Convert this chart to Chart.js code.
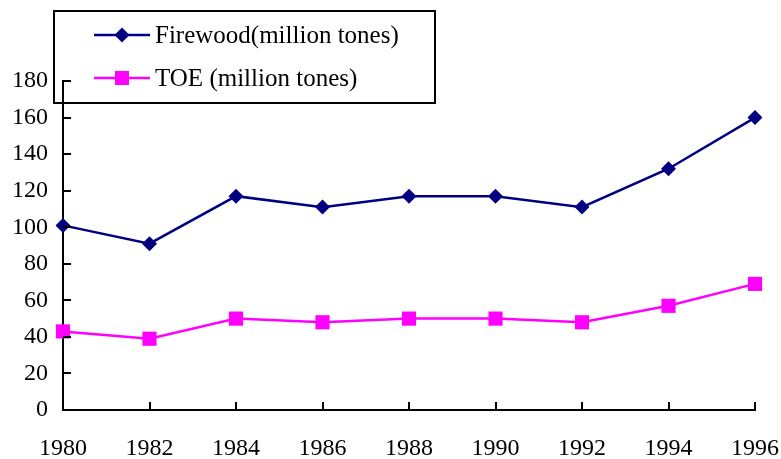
<!DOCTYPE html>
<html>
<head>
<meta charset="utf-8">
<script src="https://cdn.jsdelivr.net/npm/chart.js@4"></script>
<style>
  html, body { margin: 0; padding: 0; background: #fff; }
  #wrap { width: 781px; height: 459px; }
</style>
</head>
<body>
<div id="wrap"><canvas id="chart" width="781" height="459"></canvas></div>
<script>
// datos
const years = ['1980', '1982', '1984', '1986', '1988', '1990', '1992', '1994', '1996'];
const firewood = [101, 91, 117, 111, 117, 117, 111, 132, 160];
const toe = [43, 39, 50, 48, 50, 50, 48, 57, 69];
const yTicks = [0, 20, 40, 60, 80, 100, 120, 140, 160, 180];

const serif = '"Liberation Serif", "Times New Roman", serif';

// marcas de los ejes hacia dentro
const axisTicks = {
    id: 'axisTicks',
    afterDatasetsDraw(chart) {
        const ctx = chart.ctx;
        const x = chart.scales.x, y = chart.scales.y;
        const area = chart.chartArea;
        ctx.save();
        ctx.strokeStyle = '#000';
        ctx.lineWidth = 2;
        ctx.beginPath();
        yTicks.forEach(v => {
            const py = Math.round(y.getPixelForValue(v));
            ctx.moveTo(area.left, py);
            ctx.lineTo(area.left + 8, py);
        });
        years.forEach((lab, i) => {
            const px = Math.round(x.getPixelForValue(i));
            ctx.moveTo(px, area.bottom);
            ctx.lineTo(px, area.bottom - 8);
        });
        ctx.stroke();
        ctx.restore();
    }
};

// cuadro de leyenda
const boxLegend = {
    id: 'boxLegend',
    afterDraw(chart) {
        const ctx = chart.ctx;
        ctx.save();
        ctx.strokeStyle = '#000';
        ctx.lineWidth = 2;
        ctx.strokeRect(54, 11, 381, 92);
        const rows = [35, 78];
        chart.data.datasets.forEach((ds, i) => {
            const cy = rows[i];
            ctx.strokeStyle = ds.borderColor;
            ctx.lineWidth = 2.5;
            ctx.beginPath();
            ctx.moveTo(94, cy);
            ctx.lineTo(150, cy);
            ctx.stroke();
            ctx.fillStyle = ds.backgroundColor;
            ctx.beginPath();
            if (ds.pointStyle === 'rectRot') {
                const r = 7.5;
                ctx.moveTo(122 - r, cy); ctx.lineTo(122, cy - r);
                ctx.lineTo(122 + r, cy); ctx.lineTo(122, cy + r);
            } else {
                ctx.rect(115, cy - 7, 14, 14);
            }
            ctx.closePath();
            ctx.fill();
            ctx.fillStyle = '#000';
            ctx.font = '25px ' + serif;
            ctx.textBaseline = 'middle';
            ctx.fillText(ds.label, 155, cy + 1);
        });
        ctx.restore();
    }
};

const ctx = document.getElementById('chart').getContext('2d');
const chart = new Chart(ctx, {
    type: 'line',
    data: {
        labels: years,
        datasets: [{
            label: 'Firewood(million tones)',
            data: firewood,
            borderColor: '#000080',
            backgroundColor: '#000080',
            borderWidth: 2.5,
            pointStyle: 'rectRot',
            pointRadius: 7.5,
            pointBorderWidth: 0,
            tension: 0
        }, {
            label: 'TOE (million tones)',
            data: toe,
            borderColor: '#FF00FF',
            backgroundColor: '#FF00FF',
            borderWidth: 2.5,
            pointStyle: 'rect',
            pointRadius: 10,
            pointBorderWidth: 0,
            tension: 0
        }]
    },
    options: {
        responsive: false,
        animation: false,
        layout: { padding: { left: 0, right: 26, top: 81, bottom: 0 } },
        plugins: { legend: { display: false }, tooltip: { enabled: false } },
        scales: {
            x: {
                offset: false,
                grid: { display: false, drawTicks: false },
                border: { display: true, color: '#000', width: 2 },
                ticks: { color: '#000', font: { family: serif, size: 24 }, padding: 24, maxRotation: 0, autoSkip: false },
                afterFit: s => { s.height = 49; s.paddingLeft = 0; s.paddingRight = 0; }
            },
            y: {
                min: 0,
                max: 180,
                grid: { display: false, drawTicks: false },
                border: { display: true, color: '#000', width: 2 },
                afterBuildTicks: s => { s.ticks = yTicks.map(v => ({ value: v })); },
                ticks: { color: '#000', font: { family: serif, size: 24 }, padding: 15 },
                afterFit: s => { s.width = 63; s.paddingTop = 0; s.paddingBottom = 0; }
            }
        }
    },
    plugins: [axisTicks, boxLegend]
});
</script>
</body>
</html>
